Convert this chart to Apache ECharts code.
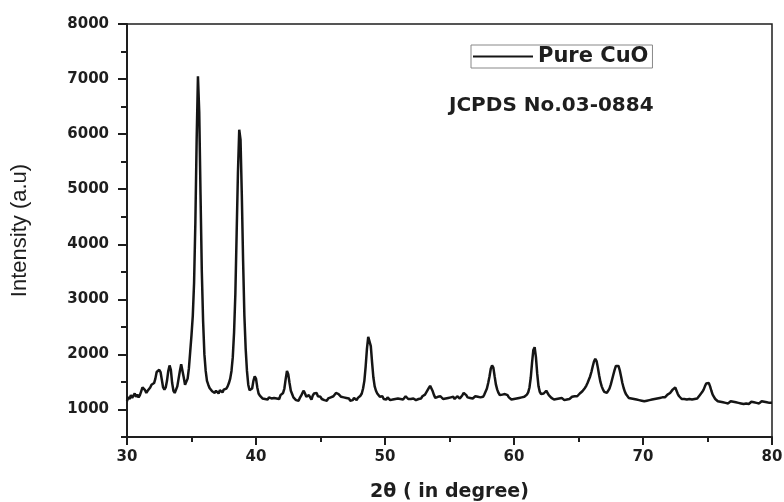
<!DOCTYPE html>
<html>
<head>
<meta charset="utf-8">
<script src="https://cdn.jsdelivr.net/npm/echarts@6/dist/echarts.min.js"></script>
<style>
  html, body { margin: 0; padding: 0; background: #fff; }
  #chart { width: 784px; height: 502px; }
</style>
</head>
<body>
<div id="chart"></div>
<script>
// XRD pattern of pure CuO, [2θ, intensity]
const pureCuO = [
  [30.0,1150],[30.1,1230],[30.2,1190],[30.3,1260],[30.4,1210],[30.5,1250],[30.6,1290],[30.7,1230],[30.8,1270],[30.9,1220],
  [31.0,1260],[31.1,1330],[31.2,1400],[31.3,1430],[31.4,1350],[31.5,1300],[31.6,1340],[31.7,1310],[31.8,1400],[31.9,1450],
  [32.0,1420],[32.1,1480],[32.2,1560],[32.3,1680],[32.4,1650],[32.5,1720],[32.6,1680],[32.7,1540],[32.8,1400],[32.9,1360],
  [33.0,1400],[33.1,1520],[33.2,1700],[33.3,1800],[33.4,1720],[33.5,1480],[33.6,1340],[33.7,1300],[33.8,1330],[33.9,1420],
  [34.0,1560],[34.1,1700],[34.2,1820],[34.3,1800],[34.4,1580],[34.5,1450],[34.6,1470],[34.7,1560],[34.8,1750],[34.9,2050],
  [35.0,2350],[35.1,2700],[35.2,3300],[35.3,4400],[35.4,5900],[35.5,7050],[35.6,6400],[35.7,4900],[35.8,3500],[35.9,2600],
  [36.0,2000],[36.1,1700],[36.2,1520],[36.3,1450],[36.4,1390],[36.5,1370],[36.6,1330],[36.7,1350],[36.8,1300],[36.9,1340],
  [37.0,1320],[37.1,1290],[37.2,1350],[37.3,1330],[37.4,1310],[37.5,1360],[37.6,1330],[37.7,1380],[37.8,1420],[37.9,1480],
  [38.0,1560],[38.1,1700],[38.2,1950],[38.3,2400],[38.4,3100],[38.5,4200],[38.6,5300],[38.7,6080],[38.8,5900],[38.9,4900],
  [39.0,3700],[39.1,2700],[39.2,2100],[39.3,1700],[39.4,1450],[39.5,1350],[39.6,1330],[39.7,1380],[39.8,1520],[39.9,1600],
  [40.0,1560],[40.1,1400],[40.2,1290],[40.3,1250],[40.4,1220],[40.5,1200],[40.6,1230],[40.7,1190],[40.8,1210],[40.9,1180],
  [41.0,1220],[41.1,1190],[41.2,1200],[41.3,1170],[41.4,1210],[41.5,1180],[41.6,1200],[41.7,1230],[41.8,1190],[41.9,1260],
  [42.0,1240],[42.1,1300],[42.2,1380],[42.3,1550],[42.4,1700],[42.5,1640],[42.6,1480],[42.7,1340],[42.8,1280],[42.9,1220],
  [43.0,1190],[43.1,1170],[43.2,1200],[43.3,1160],[43.4,1210],[43.5,1250],[43.6,1300],[43.7,1340],[43.8,1290],[43.9,1230],
  [44.0,1200],[44.1,1260],[44.2,1220],[44.3,1180],[44.4,1250],[44.5,1290],[44.6,1270],[44.7,1300],[44.8,1240],[44.9,1210],
  [45.0,1230],[45.1,1190],[45.2,1200],[45.3,1170],[45.4,1190],[45.5,1160],[45.6,1200],[45.7,1180],[45.8,1220],[45.9,1200],
  [46.0,1240],[46.1,1260],[46.2,1300],[46.3,1320],[46.4,1280],[46.5,1250],[46.6,1230],[46.7,1200],[46.8,1220],[46.9,1190],
  [47.0,1210],[47.1,1180],[47.2,1200],[47.3,1160],[47.4,1190],[47.5,1170],[47.6,1210],[47.7,1190],[47.8,1170],[47.9,1210],
  [48.0,1220],[48.1,1250],[48.2,1290],[48.3,1380],[48.4,1520],[48.5,1780],[48.6,2100],[48.7,2320],[48.8,2340],[48.9,2150],
  [49.0,1850],[49.1,1580],[49.2,1420],[49.3,1340],[49.4,1290],[49.5,1260],[49.6,1230],[49.7,1200],[49.8,1240],[49.9,1190],
  [50.0,1210],[50.1,1180],[50.2,1220],[50.3,1190],[50.4,1170],[50.5,1200],[50.6,1180],[50.7,1210],[50.8,1190],[50.9,1160],
  [51.0,1200],[51.1,1170],[51.2,1190],[51.3,1220],[51.4,1180],[51.5,1200],[51.6,1240],[51.7,1210],[51.8,1190],[51.9,1170],
  [52.0,1190],[52.1,1160],[52.2,1200],[52.3,1180],[52.4,1170],[52.5,1200],[52.6,1190],[52.7,1220],[52.8,1200],[52.9,1240],
  [53.0,1230],[53.1,1270],[53.2,1300],[53.3,1350],[53.4,1390],[53.5,1430],[53.6,1400],[53.7,1330],[53.8,1260],[53.9,1210],
  [54.0,1190],[54.1,1230],[54.2,1200],[54.3,1240],[54.4,1210],[54.5,1190],[54.6,1220],[54.7,1200],[54.8,1180],[54.9,1210],
  [55.0,1190],[55.1,1220],[55.2,1200],[55.3,1230],[55.4,1190],[55.5,1210],[55.6,1240],[55.7,1220],[55.8,1200],[55.9,1230],
  [56.0,1260],[56.1,1300],[56.2,1310],[56.3,1260],[56.4,1220],[56.5,1240],[56.6,1210],[56.7,1230],[56.8,1200],[56.9,1220],
  [57.0,1240],[57.1,1210],[57.2,1230],[57.3,1200],[57.4,1220],[57.5,1250],[57.6,1230],[57.7,1270],[57.8,1300],[57.9,1380],
  [58.0,1480],[58.1,1600],[58.2,1740],[58.3,1800],[58.4,1760],[58.5,1600],[58.6,1450],[58.7,1360],[58.8,1300],[58.9,1260],
  [59.0,1240],[59.1,1270],[59.2,1250],[59.3,1280],[59.4,1300],[59.5,1260],[59.6,1220],[59.7,1200],[59.8,1180],[59.9,1210],
  [60.0,1190],[60.1,1170],[60.2,1200],[60.3,1180],[60.4,1210],[60.5,1190],[60.6,1220],[60.7,1200],[60.8,1230],[60.9,1250],
  [61.0,1270],[61.1,1310],[61.2,1400],[61.3,1580],[61.4,1850],[61.5,2080],[61.6,2130],[61.7,1950],[61.8,1650],[61.9,1420],
  [62.0,1320],[62.1,1280],[62.2,1260],[62.3,1290],[62.4,1320],[62.5,1340],[62.6,1310],[62.7,1260],[62.8,1230],[62.9,1210],
  [63.0,1200],[63.1,1180],[63.2,1210],[63.3,1190],[63.4,1170],[63.5,1200],[63.6,1180],[63.7,1210],[63.8,1190],[63.9,1170],
  [64.0,1200],[64.1,1180],[64.2,1210],[64.3,1190],[64.4,1200],[64.5,1230],[64.6,1210],[64.7,1240],[64.8,1260],[64.9,1240],
  [65.0,1270],[65.1,1290],[65.2,1310],[65.3,1330],[65.4,1360],[65.5,1390],[65.6,1430],[65.7,1480],[65.8,1540],[65.9,1600],
  [66.0,1680],[66.1,1780],[66.2,1870],[66.3,1920],[66.4,1880],[66.5,1760],[66.6,1620],[66.7,1500],[66.8,1420],[66.9,1360],
  [67.0,1320],[67.1,1290],[67.2,1300],[67.3,1330],[67.4,1380],[67.5,1450],[67.6,1540],[67.7,1630],[67.8,1720],[67.9,1790],
  [68.0,1800],[68.1,1790],[68.2,1710],[68.3,1600],[68.4,1480],[68.5,1390],[68.6,1320],[68.7,1270],[68.8,1240],[68.9,1210],
  [69.0,1190],[69.1,1200],[69.2,1170],[69.3,1190],[69.4,1160],[69.5,1180],[69.6,1150],[69.7,1170],[69.8,1190],[69.9,1160],
  [70.0,1170],[70.1,1150],[70.2,1180],[70.3,1160],[70.4,1190],[70.5,1170],[70.6,1150],[70.7,1180],[70.8,1160],[70.9,1190],
  [71.0,1170],[71.1,1200],[71.2,1180],[71.3,1210],[71.4,1190],[71.5,1220],[71.6,1240],[71.7,1220],[71.8,1250],[71.9,1270],
  [72.0,1290],[72.1,1300],[72.2,1330],[72.3,1360],[72.4,1380],[72.5,1400],[72.6,1340],[72.7,1280],[72.8,1240],[72.9,1210],
  [73.0,1190],[73.1,1170],[73.2,1190],[73.3,1160],[73.4,1180],[73.5,1170],[73.6,1190],[73.7,1200],[73.8,1180],[73.9,1210],
  [74.0,1190],[74.1,1220],[74.2,1200],[74.3,1230],[74.4,1260],[74.5,1290],[74.6,1320],[74.7,1360],[74.8,1420],[74.9,1470],
  [75.0,1490],[75.1,1480],[75.2,1420],[75.3,1340],[75.4,1270],[75.5,1230],[75.6,1190],[75.7,1170],[75.8,1150],[75.9,1160],
  [76.0,1140],[76.1,1160],[76.2,1130],[76.3,1150],[76.4,1120],[76.5,1140],[76.6,1110],[76.7,1130],[76.8,1150],[76.9,1120],
  [77.0,1140],[77.1,1110],[77.2,1130],[77.3,1100],[77.4,1120],[77.5,1140],[77.6,1110],[77.7,1130],[77.8,1100],[77.9,1120],
  [78.0,1110],[78.1,1130],[78.2,1100],[78.3,1120],[78.4,1140],[78.5,1110],[78.6,1130],[78.7,1100],[78.8,1120],[78.9,1140],
  [79.0,1110],[79.1,1130],[79.2,1150],[79.3,1120],[79.4,1140],[79.5,1110],[79.6,1130],[79.7,1150],[79.8,1120],[79.9,1140],
  [80.0,1120]
]

const yMajorTicks = [1000, 2000, 3000, 4000, 5000, 6000, 7000, 8000]
const yMinorTicks = [500, 1500, 2500, 3500, 4500, 5500, 6500, 7500]
const seriesName = 'Pure CuO'
const refNote = 'JCPDS No.03-0884'

const INK = '#1e1e1e'
// wide bold face, closer to the stretched lettering of the original
const WIDE_BOLD = "'DejaVu Sans', 'Liberation Sans', sans-serif"

const chart = echarts.init(document.getElementById('chart'))

chart.setOption({
  backgroundColor: '#ffffff',
  animation: false,
  title: {
    text: refNote, left: 444, top: 91,
    textStyle: { color: INK, fontSize: 20, fontWeight: 'bold', fontFamily: WIDE_BOLD },
  },
  legend: {
    data: [seriesName], left: 471, top: 45,
    itemWidth: 60, itemHeight: 2, itemGap: 5,
    padding: [1, 4, 1, 2],
    borderColor: '#888', borderWidth: 1,
    icon: 'rect',
    textStyle: { color: INK, fontSize: 21, fontWeight: 'bold', fontFamily: WIDE_BOLD },
  },
  grid: {
    left: 127, right: 12, top: 24, bottom: 65,
    outerBoundsMode: 'none',
    show: true, borderColor: INK, borderWidth: 1.5, backgroundColor: 'transparent',
  },
  xAxis: {
    type: 'value', min: 30, max: 80, interval: 10,
    name: '2θ ( in degree)', nameLocation: 'middle', nameGap: 46,
    nameTextStyle: { color: INK, fontSize: 19, fontWeight: 'bold', fontFamily: WIDE_BOLD },
    axisLine: { lineStyle: { color: INK, width: 2 } },
    axisTick: { length: 8, lineStyle: { color: INK, width: 2 } },
    minorTick: { show: true, splitNumber: 2, length: 5, lineStyle: { color: INK, width: 2 } },
    axisLabel: { margin: 13, color: INK, fontSize: 15, fontWeight: 'bold', fontFamily: WIDE_BOLD },
    splitLine: { show: false },
  },
  yAxis: [{
    type: 'value', min: 500, max: 8000,
    name: 'Intensity (a.u)', nameLocation: 'middle', nameGap: 96,
    nameTextStyle: { color: INK, fontSize: 22, fontFamily: "'Liberation Sans', Arial, sans-serif" },
    axisLine: { lineStyle: { color: INK, width: 2 } },
    axisTick: { customValues: yMajorTicks, length: 9, lineStyle: { color: INK, width: 2 } },
    axisLabel: {
      customValues: yMajorTicks, margin: 18, formatter: v => String(v),
      color: INK, fontSize: 15, fontWeight: 'bold', fontFamily: WIDE_BOLD,
    },
    splitLine: { show: false },
  }, {
    // only the short half-step ticks
    type: 'value', min: 500, max: 8000, position: 'left',
    axisLine: { show: false },
    axisTick: { customValues: yMinorTicks, length: 6, lineStyle: { color: INK, width: 2 } },
    axisLabel: { show: false },
    splitLine: { show: false },
  }],
  series: [{
    name: seriesName, type: 'line', data: pureCuO,
    xAxisIndex: 0, yAxisIndex: 0,
    showSymbol: false, symbol: 'none',
    lineStyle: { color: '#151515', width: 2.5 },
    itemStyle: { color: '#151515' },
  }],
})
</script>
</body>
</html>
